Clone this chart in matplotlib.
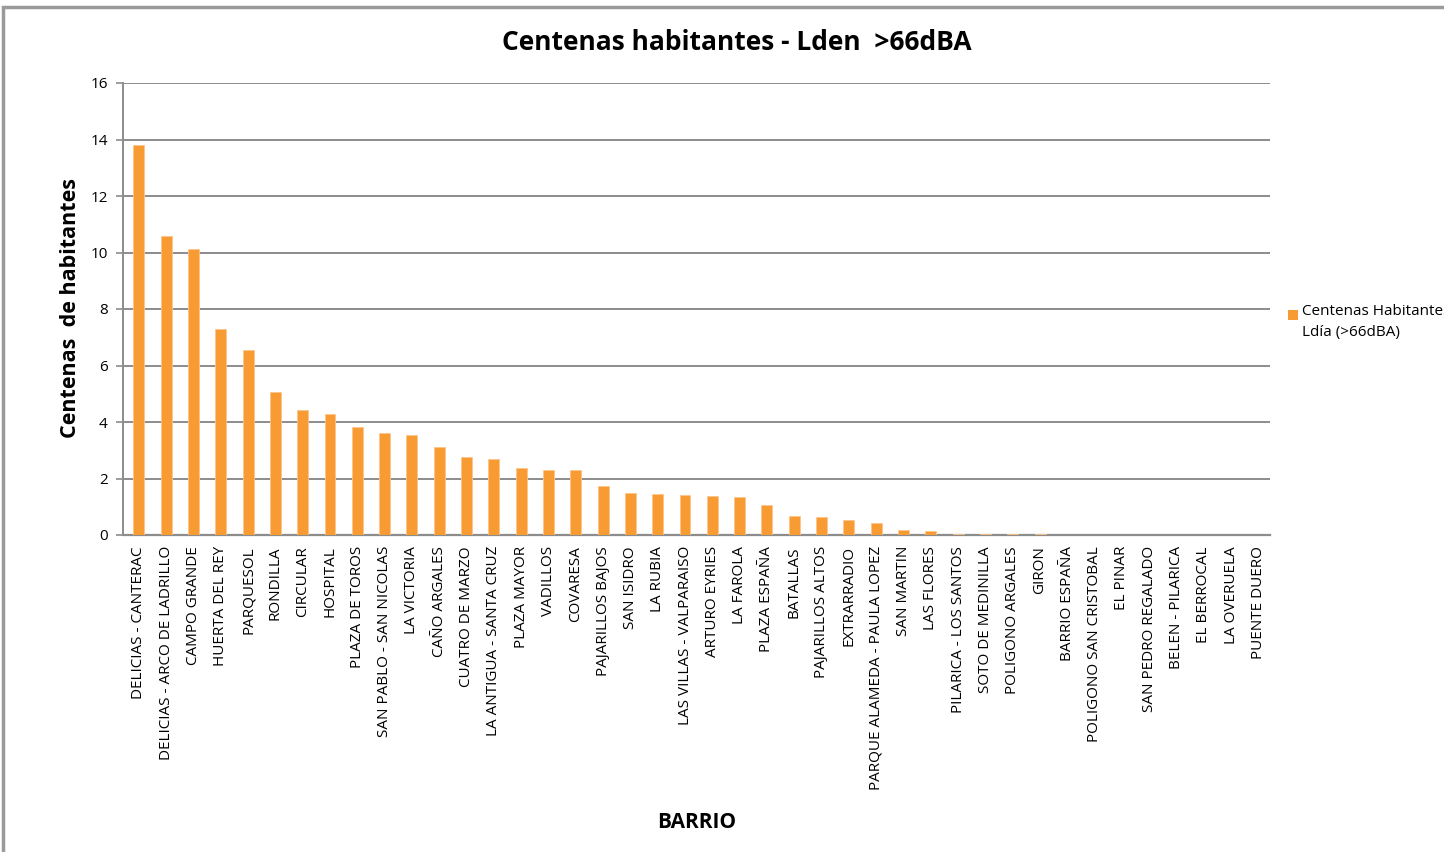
import matplotlib
matplotlib.use("Agg")
import matplotlib.pyplot as plt
from matplotlib.patches import Rectangle

barrios = [
    "DELICIAS - CANTERAC", "DELICIAS - ARCO DE LADRILLO", "CAMPO GRANDE",
    "HUERTA DEL REY", "PARQUESOL", "RONDILLA", "CIRCULAR", "HOSPITAL",
    "PLAZA DE TOROS", "SAN PABLO - SAN NICOLAS", "LA VICTORIA", "CAÑO ARGALES",
    "CUATRO DE MARZO", "LA ANTIGUA - SANTA CRUZ", "PLAZA MAYOR", "VADILLOS",
    "COVARESA", "PAJARILLOS BAJOS", "SAN ISIDRO", "LA RUBIA",
    "LAS VILLAS - VALPARAISO", "ARTURO EYRIES", "LA FAROLA", "PLAZA ESPAÑA",
    "BATALLAS", "PAJARILLOS ALTOS", "EXTRARRADIO", "PARQUE ALAMEDA - PAULA LOPEZ",
    "SAN MARTIN", "LAS FLORES", "PILARICA - LOS SANTOS", "SOTO DE MEDINILLA",
    "POLIGONO ARGALES", "GIRON", "BARRIO ESPAÑA", "POLIGONO SAN CRISTOBAL",
    "EL PINAR", "SAN PEDRO REGALADO", "BELEN - PILARICA", "EL BERROCAL",
    "LA OVERUELA", "PUENTE DUERO",
]
centenas = [
    13.79, 10.58, 10.11, 7.29, 6.54, 5.07, 4.42, 4.28, 3.82, 3.62, 3.53, 3.13,
    2.76, 2.70, 2.36, 2.30, 2.30, 1.72, 1.47, 1.45, 1.41, 1.39, 1.33, 1.07,
    0.66, 0.62, 0.54, 0.41, 0.16, 0.13, 0.05, 0.04, 0.04, 0.04, 0.0, 0.0,
    0.0, 0.0, 0.0, 0.0, 0.0, 0.0,
]
yticks = [0, 2, 4, 6, 8, 10, 12, 14, 16]
serie = "Centenas Habitantes\nLdía (>66dBA)"

plt.rcParams["font.family"] = ["Open Sans", "DejaVu Sans"]

fig = plt.figure(figsize=(14.44, 8.52), dpi=100)
ax = fig.add_axes([123 / 1444, 1 - 535 / 852, (1270 - 123) / 1444, (535 - 83) / 852])

orange = "#F99B33"
x = list(range(len(barrios)))
ax.bar(x, centenas, width=0.4, color=orange, edgecolor="#FCC48A", linewidth=0.6,
       zorder=3, label=serie)

ax.set_ylim(0, 16)
ax.set_xlim(-0.58, len(barrios) - 0.58)
ax.set_yticks(yticks)
ax.set_yticklabels([str(v) for v in yticks], fontsize=11)
ax.set_xticks(x)
ax.set_xticklabels(barrios, rotation=90, fontsize=11)
ax.tick_params(axis="x", length=0, pad=8)
ax.tick_params(axis="y", length=5, color="#8C8C8C", width=1.2, pad=6)
ax.yaxis.grid(True, color="#8C8C8C", linewidth=1.4, zorder=0)
ax.set_axisbelow(True)
for s in ["top", "right"]:
    ax.spines[s].set_visible(False)
ax.spines["left"].set_color("#8C8C8C")
ax.spines["left"].set_linewidth(1.4)
ax.spines["bottom"].set_color("#8C8C8C")
ax.spines["bottom"].set_linewidth(1.6)

fig.text(737 / 1444, 1 - 42 / 852, "Centenas habitantes - Lden  >66dBA",
         ha="center", va="center", fontsize=19, fontweight="bold")
fig.text(70 / 1444, 1 - 308 / 852, "Centenas  de habitantes", rotation=90,
         ha="center", va="center", fontsize=15.5, fontweight="bold")
fig.text(697 / 1444, 1 - 822 / 852, "BARRIO", ha="center", va="center",
         fontsize=15, fontweight="bold")

# legend: square key at the first line, wrapped label (cut at right edge as in the original)
fig.patches.append(Rectangle((1288 / 1444, 1 - 320 / 852), 10 / 1444, 10 / 852,
                             transform=fig.transFigure, facecolor=orange,
                             edgecolor="none"))
fig.text(1302 / 1444, 1 - 304 / 852, serie, ha="left", va="top",
         fontsize=11, linespacing=1.55)

# chart frame (partly cropped in original)
fig.patches.append(Rectangle((3 / 1444, -0.01), 1.2, 1 - 7 / 852 + 0.01,
                             transform=fig.transFigure, fill=False,
                             edgecolor="#9A9A9A", linewidth=2.5))

fig.savefig("out.png", dpi=100)
